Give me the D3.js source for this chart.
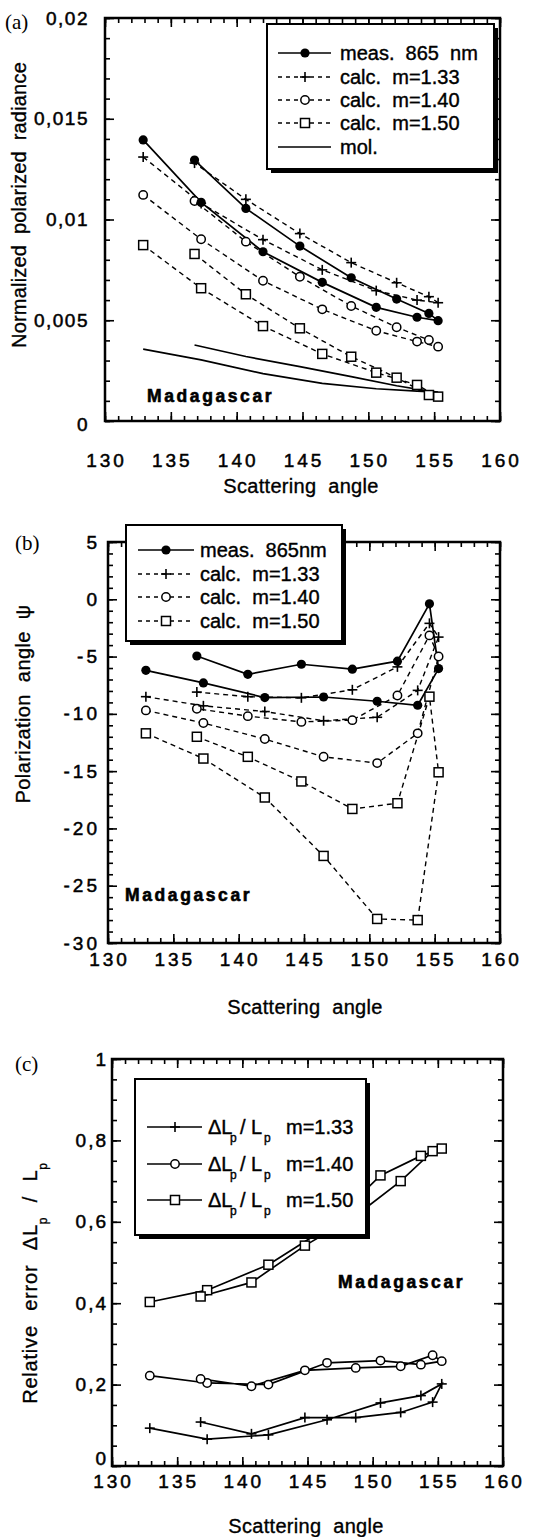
<!DOCTYPE html>
<html><head><meta charset="utf-8">
<script src="https://cdn.jsdelivr.net/npm/d3@7"></script>
<style>
body{margin:0;background:#fff;}
svg{display:block;}
text{font-family:"Liberation Sans",Arial,Helvetica,sans-serif;fill:#000;}
</style></head><body>
<svg id="c" width="541" height="1537"></svg>
<script>
// ---------- data ----------
const angles = [132.9, 137.3, 142.0, 146.5, 150.6, 153.7, 155.3, 154.6, 152.15, 148.7, 144.8, 140.7, 136.8];
const xTicks = [130, 135, 140, 145, 150, 155, 160];

// (a) normalized polarized radiance
const measA    = [0.01395, 0.01085, 0.0084, 0.00688, 0.00564, 0.00515, 0.00498, 0.00534, 0.00605, 0.00711, 0.00868, 0.01055, 0.01295];
const calc133A = [0.0131, 0.0108, 0.0090, 0.0075, 0.00647, 0.0060, 0.00587, 0.00617, 0.00686, 0.00786, 0.0093, 0.0110, 0.0128];
const calc140A = [0.01122, 0.00902, 0.00696, 0.00554, 0.00448, 0.00394, 0.00369, 0.00402, 0.00465, 0.00571, 0.00716, 0.0089, 0.01092];
const calc150A = [0.00873, 0.00659, 0.00471, 0.00333, 0.0024, 0.00179, 0.00121, 0.00129, 0.00215, 0.00319, 0.0046, 0.00629, 0.00829];
const molA     = [0.00357, 0.00303, 0.00235, 0.00187, 0.0016, 0.00148, 0.00143, 0.00148, 0.00175, 0.0022, 0.0027, 0.0032, 0.00377];
const yTicksA  = [0, 0.005, 0.01, 0.015, 0.02];
const yLabelsA = ["0", "0,005", "0,01", "0,015", "0,02"];

// (b) polarization angle
const measB    = [-6.2, -7.3, -8.58, -8.53, -8.9, -9.25, -6.05, -0.4, -5.4, -6.1, -5.67, -6.55, -4.95];
const calc133B = [-8.5, -9.3, -9.8, -10.6, -10.3, -7.95, -3.3, -2.1, -5.9, -7.9, -8.6, -8.5, -8.1];
const calc140B = [-9.7, -10.8, -12.2, -13.75, -14.3, -11.7, -5.0, -3.15, -8.4, -10.55, -10.7, -10.2, -9.55];
const calc150B = [-11.7, -13.9, -17.3, -22.4, -27.9, -28.0, -15.1, -8.5, -17.8, -18.3, -15.9, -13.75, -12.0];
const yTicksB  = [-30, -25, -20, -15, -10, -5, 0, 5];
const yLabelsB = ["-30", "-25", "-20", "-15", "-10", "-5", "0", "5"];

// (c) relative error
const err133 = [0.093, 0.066, 0.0765, 0.1136, 0.155, 0.173, 0.2017, 0.157, 0.1316, 0.119, 0.119, 0.079, 0.108];
const err140 = [0.222, 0.204, 0.200, 0.2535, 0.259, 0.249, 0.2576, 0.272, 0.245, 0.241, 0.235, 0.196, 0.214];
const err150 = [0.403, 0.432, 0.4946, 0.586, 0.714, 0.762, 0.78, 0.7736, 0.70, 0.615, 0.5415, 0.451, 0.4165];
const yTicksC  = [0, 0.2, 0.4, 0.6, 0.8, 1];
const yLabelsC = ["0", "0,2", "0,4", "0,6", "0,8", "1"];

// ---------- drawing ----------
const svg = d3.select("#c");
const FONT = 19;
const LFONT = 20;

function marker(g, type, cx, cy) {
  if (type === "dot") g.append("circle").attr("cx", cx).attr("cy", cy).attr("r", 4.6).attr("fill", "#000");
  else if (type === "circle") g.append("circle").attr("cx", cx).attr("cy", cy).attr("r", 4.2).attr("fill", "#fff").attr("stroke", "#000").attr("stroke-width", 1.5);
  else if (type === "square") g.append("rect").attr("x", cx - 4.5).attr("y", cy - 4.5).attr("width", 9).attr("height", 9).attr("fill", "#fff").attr("stroke", "#000").attr("stroke-width", 1.5);
  else if (type === "plus") {
    g.append("line").attr("x1", cx - 5).attr("x2", cx + 5).attr("y1", cy).attr("y2", cy).attr("stroke", "#000").attr("stroke-width", 1.6);
    g.append("line").attr("x1", cx).attr("x2", cx).attr("y1", cy - 5).attr("y2", cy + 5).attr("stroke", "#000").attr("stroke-width", 1.6);
  }
}

function panel(o) {
  const x = d3.scaleLinear().domain([130, 160]).range([o.x0, o.x1]);
  const y = d3.scaleLinear().domain(o.ydom).range([o.yb, o.yt]);
  const g = svg.append("g");

  const minorX = d3.range(130, 161, 1);
  const mkAxis = (axis, scale, vals, len, tr) => {
    const a = g.append("g").attr("transform", tr).call(axis(scale).tickValues(vals).tickSize(len).tickFormat(""));
    a.select(".domain").remove();
    a.selectAll("line").attr("stroke", "#000").attr("stroke-width", 1.6);
  };
  const minorY = d3.range(o.ydom[0], o.ydom[1] + o.minor / 2, o.minor);
  mkAxis(d3.axisTop, x, minorX, 5, `translate(0,${o.yb})`);
  mkAxis(d3.axisTop, x, xTicks, 9, `translate(0,${o.yb})`);
  mkAxis(d3.axisBottom, x, minorX, 5, `translate(0,${o.yt})`);
  mkAxis(d3.axisBottom, x, xTicks, 9, `translate(0,${o.yt})`);
  mkAxis(d3.axisRight, y, minorY, 5, `translate(${o.x0},0)`);
  mkAxis(d3.axisRight, y, o.yTicks, 9, `translate(${o.x0},0)`);
  mkAxis(d3.axisLeft, y, minorY, 5, `translate(${o.x1},0)`);
  mkAxis(d3.axisLeft, y, o.yTicks, 9, `translate(${o.x1},0)`);

  g.append("rect").attr("x", o.x0).attr("y", o.yt).attr("width", o.x1 - o.x0).attr("height", o.yb - o.yt)
    .attr("fill", "none").attr("stroke", "#000").attr("stroke-width", 2.5);

  g.selectAll(".xl").data(xTicks).enter().append("text")
    .attr("x", d => x(d) + 1.5).attr("y", o.yb + o.xlabOff).attr("text-anchor", "middle")
    .attr("dominant-baseline", "central").attr("font-size", FONT).attr("letter-spacing", 3)
    .attr("stroke", "#000").attr("stroke-width", 0.5)
    .text(d => d);
  g.selectAll(".yl").data(o.yTicks).enter().append("text")
    .attr("x", o.x0 - o.ylabOff).attr("y", (d, i) => y(d) + (i === 0 ? o.zeroShift : 0)).attr("text-anchor", "end")
    .attr("dominant-baseline", "central").attr("font-size", FONT).attr("letter-spacing", o.yls)
    .attr("stroke", "#000").attr("stroke-width", 0.5)
    .text((d, i) => o.yLabels[i]);

  const line = d3.line().x(d => x(d[0])).y(d => y(d[1]));
  o.series.forEach(s => {
    const pts = angles.map((a, i) => [a, s.values[i]]);
    g.append("path").attr("d", line(pts)).attr("fill", "none").attr("stroke", "#000")
      .attr("stroke-width", s.dash ? 1.4 : 1.7).attr("stroke-dasharray", s.dash ? "5,4" : null);
  });
  o.series.forEach(s => {
    if (!s.marker) return;
    angles.forEach((a, i) => marker(g, s.marker, x(a), y(s.values[i])));
  });

  g.append("text").attr("x", o.madX).attr("y", o.madY).attr("dominant-baseline", "central")
    .attr("font-size", 17.5).attr("font-weight", "bold").attr("letter-spacing", 2.6)
    .attr("stroke", "#000").attr("stroke-width", 0.6).text("Madagascar");

  g.append("text").attr("x", o.xtX).attr("y", o.xtY).attr("text-anchor", "middle").attr("dominant-baseline", "central")
    .attr("font-size", 20).attr("word-spacing", 6).attr("letter-spacing", 0.3)
    .attr("stroke", "#000").attr("stroke-width", 0.35).text("Scattering angle");

  g.append("text").attr("x", o.letX).attr("y", o.letY).attr("dominant-baseline", "central")
    .style("font-family", "'Liberation Serif','Times New Roman',serif").attr("font-size", 21).text(o.letter);

  return {x, y, g};
}

function legendBox(g, b) {
  g.append("rect").attr("x", b.x + 4).attr("y", b.y + 4).attr("width", b.w).attr("height", b.h).attr("fill", "#000");
  g.append("rect").attr("x", b.x).attr("y", b.y).attr("width", b.w).attr("height", b.h).attr("fill", "#fff")
    .attr("stroke", "#000").attr("stroke-width", 2);
}
function legendSample(g, l, ly, dash, mk) {
  g.append("line").attr("x1", l.s1).attr("x2", l.s2).attr("y1", ly).attr("y2", ly).attr("stroke", "#000")
    .attr("stroke-width", dash ? 1.3 : 1.7).attr("stroke-dasharray", dash ? "4,4" : null);
  if (mk) marker(g, mk, l.m, ly);
}
function yTitle(tx, ty, ls, ws) {
  return svg.append("text").attr("transform", `translate(${tx},${ty}) rotate(-90)`).attr("text-anchor", "middle")
    .attr("font-size", 20).attr("dy", "0.35em").attr("word-spacing", ws).attr("letter-spacing", ls)
    .attr("stroke", "#000").attr("stroke-width", 0.35);
}

// ----- panel (a)
const A = panel({x0: 105, x1: 500, yt: 18, yb: 421, ydom: [0, 0.02], minor: 0.001, yTicks: yTicksA, yLabels: yLabelsA,
  xlabOff: 39, ylabOff: 16, yls: 1.5, zeroShift: 3,
  series: [
    {values: molA, dash: false, marker: null},
    {values: calc150A, dash: true, marker: "square"},
    {values: calc140A, dash: true, marker: "circle"},
    {values: calc133A, dash: true, marker: "plus"},
    {values: measA, dash: false, marker: "dot"}
  ],
  madX: 147, madY: 396, xtX: 301, xtY: 486, letX: 5, letY: 22, letter: "(a)"});
yTitle(19, 205, 0.2, 5).text("Normalized polarized radiance");
{
  const g = A.g;
  const l = {s1: 278, s2: 331, m: 305, t: 340};
  legendBox(g, {x: 267, y: 24, w: 227, h: 145});
  const rows = [["meas.  865  nm", false, "dot"], ["calc.  m=1.33", true, "plus"], ["calc.  m=1.40", true, "circle"],
    ["calc.  m=1.50", true, "square"], ["mol.", false, null]];
  const rys = [53, 77, 100, 123, 147];
  rows.forEach((r, i) => {
    legendSample(g, l, rys[i], r[1], r[2]);
    g.append("text").attr("x", l.t).attr("y", rys[i]).attr("dominant-baseline", "central").attr("font-size", LFONT)
      .style("white-space", "pre").attr("stroke", "#000").attr("stroke-width", 0.4).text(r[0]);
  });
}

// ----- panel (b)
const B = panel({x0: 108, x1: 500, yt: 542, yb: 943, ydom: [-30, 5], minor: 1, yTicks: yTicksB, yLabels: yLabelsB,
  xlabOff: 16, ylabOff: 8, yls: 3, zeroShift: 0,
  series: [
    {values: calc150B, dash: true, marker: "square"},
    {values: calc140B, dash: true, marker: "circle"},
    {values: calc133B, dash: true, marker: "plus"},
    {values: measB, dash: false, marker: "dot"}
  ],
  madX: 125, madY: 895, xtX: 305, xtY: 1007, letX: 15, letY: 543, letter: "(b)"});
yTitle(23, 704, 0.4, 6).text("Polarization angle ψ");
{
  const g = B.g;
  const l = {s1: 138, s2: 194, m: 166, t: 200};
  legendBox(g, {x: 126, y: 525, w: 216, h: 116});
  const rows = [["meas.  865nm", false, "dot"], ["calc.  m=1.33", true, "plus"], ["calc.  m=1.40", true, "circle"],
    ["calc.  m=1.50", true, "square"]];
  const rys = [550, 574, 597, 621];
  rows.forEach((r, i) => {
    legendSample(g, l, rys[i], r[1], r[2]);
    g.append("text").attr("x", l.t).attr("y", rys[i]).attr("dominant-baseline", "central").attr("font-size", LFONT)
      .style("white-space", "pre").attr("stroke", "#000").attr("stroke-width", 0.4).text(r[0]);
  });
}

// ----- panel (c)
const C = panel({x0: 112, x1: 503, yt: 1059, yb: 1466, ydom: [0, 1], minor: 0.05, yTicks: yTicksC, yLabels: yLabelsC,
  xlabOff: 15, ylabOff: 4, yls: 2, zeroShift: -8,
  series: [
    {values: err133, dash: false, marker: "plus"},
    {values: err140, dash: false, marker: "circle"},
    {values: err150, dash: false, marker: "square"}
  ],
  madX: 338, madY: 1282, xtX: 306, xtY: 1526, letX: 15, letY: 1064, letter: "(c)"});
{
  const t = yTitle(30, 1283, 0.8, 8).style("white-space", "pre");
  t.append("tspan").text("Relative error ΔL");
  t.append("tspan").attr("dy", 10).attr("font-size", 12).text("p");
  t.append("tspan").attr("dy", -10).text(" / L");
  t.append("tspan").attr("dy", 10).attr("font-size", 12).text("p");
}
{
  const g = C.g;
  const l = {s1: 147, s2: 202, m: 175, t: 208};
  legendBox(g, {x: 135, y: 1079, w: 231, h: 156});
  const rows = [["m=1.33", "plus"], ["m=1.40", "circle"], ["m=1.50", "square"]];
  const rys = [1127, 1164, 1200];
  rows.forEach((r, i) => {
    const ry = rys[i];
    legendSample(g, l, ry, false, r[1]);
    const tx = (xx, s, fs, dy) => g.append("text").attr("x", xx).attr("y", ry + (dy || 0)).attr("dominant-baseline", "central")
      .attr("font-size", fs).attr("stroke", "#000").attr("stroke-width", 0.4).text(s);
    tx(l.t, "ΔL", LFONT);
    tx(230, "p", 12, 11);
    tx(240, "/", LFONT);
    tx(251, "L", LFONT);
    tx(264, "p", 12, 11);
    tx(286, r[0], LFONT);
  });
}
</script>
</body></html>
